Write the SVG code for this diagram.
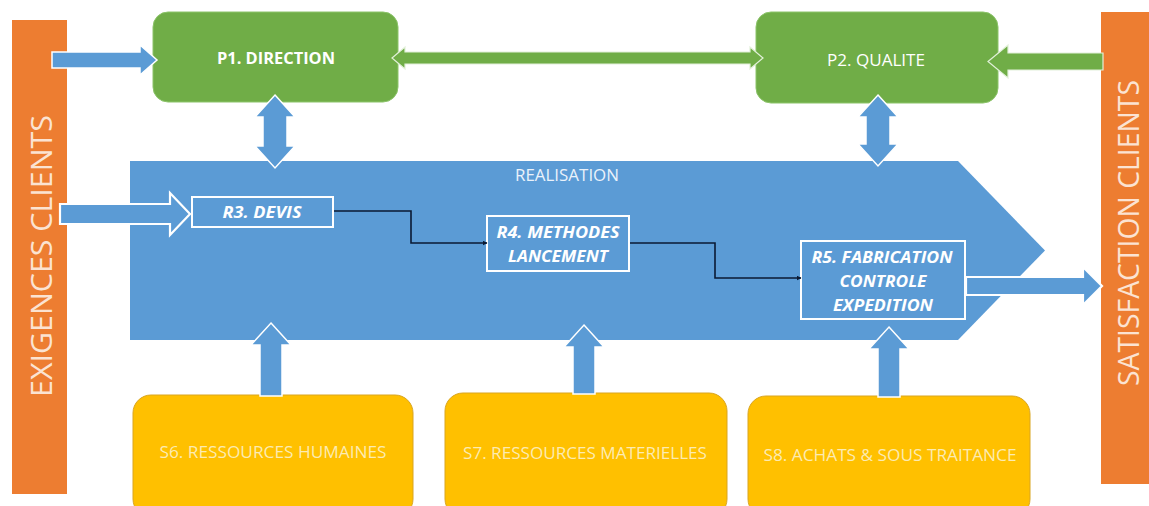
<svg xmlns="http://www.w3.org/2000/svg" width="1149" height="506" viewBox="0 0 1149 506">
  <defs>
    <style>
      text { font-family: "Open Sans", "Noto Sans", "Liberation Sans", sans-serif; text-anchor: middle; dominant-baseline: central; }
      .side { fill: #ED7D31; }
      .side-txt { fill: #FBE3D2; font-size: 30px; }
      .pilot { fill: #70AD47; stroke: #8CC46A; stroke-width: 1; }
      .pilot-txt { fill: #FFFFFF; font-size: 15.5px; }
      .core { fill: #5B9BD5; }
      .core-txt { fill: #EAF2FB; font-size: 15.5px; }
      .step { fill: #5B9BD5; stroke: #FFFFFF; stroke-width: 2; }
      .step-txt { fill: #FFFFFF; font-size: 15.5px; font-weight: bold; font-style: italic; }
      .support { fill: #FFC000; stroke: #D9A521; stroke-width: 1; }
      .support-txt { fill: #FCEBB2; font-size: 16px; }
      .blue-arrow { fill: #5B9BD5; stroke: #FFFFFF; stroke-width: 1.5; stroke-linejoin: miter; }
      .blue-arrow-bold { fill: #5B9BD5; stroke: #FFFFFF; stroke-width: 2.2; stroke-linejoin: miter; }
      .green-arrow { fill: #70AD47; stroke: #E2F0D9; stroke-width: 1.2; stroke-linejoin: miter; }
      .flow { fill: none; stroke: #0B1A33; stroke-width: 1.6; marker-end: url(#tip); }
    </style>
    <marker id="tip" viewBox="0 0 10 10" refX="9" refY="5" markerWidth="5" markerHeight="5" orient="auto" markerUnits="userSpaceOnUse">
      <path d="M0,0 L10,5 L0,10 Z" fill="#0B1A33"/>
    </marker>
  </defs>

  <rect width="1149" height="506" fill="#FFFFFF"/>

  <!-- side bars -->
  <g id="exigences-clients">
    <rect class="side" x="12" y="20" width="55" height="474"/>
    <text class="side-txt" transform="translate(40,256) rotate(-90)" textLength="282" lengthAdjust="spacingAndGlyphs">EXIGENCES CLIENTS</text>
  </g>
  <g id="satisfaction-clients">
    <rect class="side" x="1101" y="12" width="48" height="472"/>
    <text class="side-txt" transform="translate(1127,233) rotate(-90)" textLength="306" lengthAdjust="spacingAndGlyphs">SATISFACTION CLIENTS</text>
  </g>

  <!-- realisation block -->
  <g id="realisation">
    <path class="core" d="M130,161 H958 L1045,250.5 L958,340 H130 Z"/>
    <text class="core-txt" x="567" y="175" textLength="104" lengthAdjust="spacingAndGlyphs">REALISATION</text>
  </g>

  <!-- pilot processes -->
  <g id="p1-direction">
    <rect class="pilot" x="153" y="12" width="245" height="90" rx="15"/>
    <text class="pilot-txt" x="276" y="58" font-weight="bold" textLength="118" lengthAdjust="spacingAndGlyphs">P1. DIRECTION</text>
  </g>
  <g id="p2-qualite">
    <rect class="pilot" x="756" y="12" width="242" height="91" rx="15"/>
    <text class="pilot-txt" x="876" y="60" textLength="98" lengthAdjust="spacingAndGlyphs">P2. QUALITE</text>
  </g>

  <!-- realisation steps -->
  <g id="r3-devis">
    <rect class="step" x="192" y="197" width="141" height="30"/>
    <text class="step-txt" x="262" y="212" textLength="79" lengthAdjust="spacingAndGlyphs">R3. DEVIS</text>
  </g>
  <g id="r4-methodes">
    <rect class="step" x="487" y="216" width="142" height="55"/>
    <text class="step-txt" x="558" y="232" textLength="123" lengthAdjust="spacingAndGlyphs">R4. METHODES</text>
    <text class="step-txt" x="558" y="256" textLength="100" lengthAdjust="spacingAndGlyphs">LANCEMENT</text>
  </g>
  <g id="r5-fabrication">
    <rect class="step" x="801" y="241" width="164" height="78"/>
    <text class="step-txt" x="882" y="257" textLength="141" lengthAdjust="spacingAndGlyphs">R5. FABRICATION</text>
    <text class="step-txt" x="883" y="281" textLength="87" lengthAdjust="spacingAndGlyphs">CONTROLE</text>
    <text class="step-txt" x="883" y="305" textLength="100" lengthAdjust="spacingAndGlyphs">EXPEDITION</text>
  </g>

  <!-- support processes -->
  <g id="s6-rh">
    <rect class="support" x="133" y="395" width="280" height="122" rx="18"/>
    <text class="support-txt" x="273" y="452" textLength="227" lengthAdjust="spacingAndGlyphs">S6. RESSOURCES HUMAINES</text>
  </g>
  <g id="s7-materielles">
    <rect class="support" x="445" y="393" width="282" height="124" rx="18"/>
    <text class="support-txt" x="585" y="453" textLength="244" lengthAdjust="spacingAndGlyphs">S7. RESSOURCES MATERIELLES</text>
  </g>
  <g id="s8-achats">
    <rect class="support" x="748" y="396" width="282" height="121" rx="18"/>
    <text class="support-txt" x="890" y="455" textLength="253" lengthAdjust="spacingAndGlyphs">S8. ACHATS &amp; SOUS TRAITANCE</text>
  </g>

  <!-- connectors -->
  <g id="connectors">
    <!-- client requirements into direction -->
    <path class="blue-arrow" d="M52,52 H140 V45 L157,60 L140,75 V68 H52 Z"/>
    <!-- direction <-> qualite -->
    <path class="green-arrow" d="M392,58 L405,47 V52 H750 V47 L763,58 L750,69 V64 H405 V69 Z"/>
    <!-- satisfaction feedback into qualite -->
    <path class="green-arrow" d="M988,61.5 L1008,45 V53 H1103 V70 H1008 V78 Z"/>
    <!-- pilots <-> realisation -->
    <path class="blue-arrow" d="M275,95 L295,117 H287 V146 H295 L275,168 L255,146 H263 V117 H255 Z"/>
    <path class="blue-arrow" d="M878,95 L898,117 H890 V144 H898 L878,166 L858,144 H866 V117 H858 Z"/>
    <!-- requirements into quotation -->
    <path class="blue-arrow-bold" d="M60,204 H170 V193 L190,214 L170,235 V224 H60 Z"/>
    <!-- delivery to customers -->
    <path class="blue-arrow-bold" d="M966,277 H1083 V267 L1102,286 L1083,305 V295 H966 Z"/>
    <!-- supports into realisation -->
    <path class="blue-arrow" d="M271,323 L291,345 H282 V396 H260 V345 H251 Z"/>
    <path class="blue-arrow" d="M584,325 L604,347 H595 V394 H573 V347 H564 Z"/>
    <path class="blue-arrow" d="M889,327 L909,349 H900 V397 H878 V349 H869 Z"/>
    <!-- step flow -->
    <path class="flow" d="M334,211 H411 V243 H487"/>
    <path class="flow" d="M630,243 H715 V278 H801"/>
  </g>
</svg>
